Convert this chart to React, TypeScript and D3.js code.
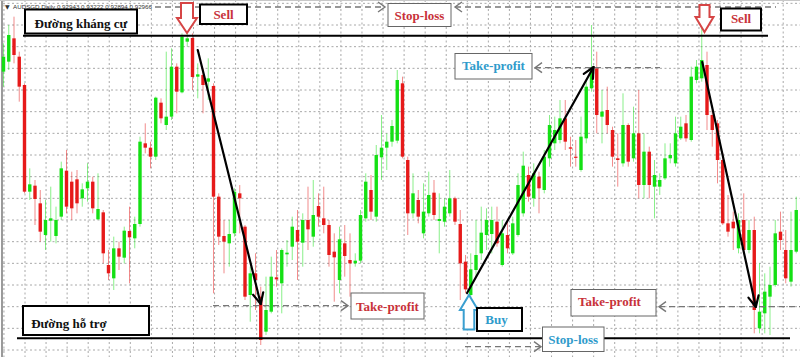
import React from "react";
import * as d3 from "d3";

const W = 800;
const H = 357;

// Candles (index -4 .. 147), values in price points
const firstIndex = -4;
const opens = [835,865,935,880,795,475,493,440,345,388,342,400,538,505,512,455,485,505,392,413,255,215,305,277,357,335,378,620,607,580,742,675,700,850,773,925,936,820,825,805,792,460,342,320,350,470,370,165,230,160,55,115,218,200,287,310,360,322,390,340,432,395,375,295,210,320,270,260,268,395,480,400,578,607,625,628,800,570,410,450,350,410,472,387,385,410,455,378,265,165,240,290,345,348,385,255,345,290,345,410,525,455,520,480,575,620,630,695,608,580,540,635,785,845,700,720,660,575,560,675,575,650,495,595,490,490,515,575,560,635,680,630,810,815,855,705,680,570,380,385,305,390,300,360,65,110,160,195,355,300,205,295];
const highs = [920,975,1000,895,800,545,510,480,450,490,430,565,600,535,540,500,560,520,530,420,300,340,325,370,430,400,640,680,625,760,755,895,905,860,950,981,950,860,845,875,800,470,390,390,485,495,375,250,290,190,220,280,300,305,330,400,420,410,490,510,470,490,390,350,370,375,350,290,420,530,525,615,705,650,690,840,820,580,530,480,500,535,510,470,455,540,460,420,285,290,390,430,425,430,430,390,390,400,530,595,550,560,535,600,705,700,750,750,640,630,700,810,975,895,780,790,670,650,770,680,730,780,650,610,570,530,620,620,700,700,705,850,870,975,895,720,690,590,465,415,410,470,390,400,260,230,250,390,415,360,415,460];
const lows = [790,840,860,745,470,450,375,325,300,325,320,390,410,390,410,430,445,410,390,260,210,180,240,260,200,305,370,590,545,570,680,660,690,710,770,910,780,755,710,750,170,315,230,250,340,350,150,85,120,15,45,110,190,110,250,270,210,250,300,310,370,350,250,145,170,220,160,250,260,385,390,385,510,540,610,620,575,345,395,380,335,400,390,290,370,400,375,150,170,160,220,270,300,290,310,250,290,285,340,400,445,430,410,470,550,600,620,600,550,550,535,620,775,650,620,650,550,490,550,550,565,455,455,455,395,465,510,560,550,630,625,625,800,805,660,610,500,375,340,300,290,290,290,50,50,50,45,190,300,200,190,290];
const closes = [880,945,885,790,475,497,453,355,390,395,390,545,430,425,440,482,505,425,423,290,230,305,280,358,338,378,625,607,580,757,695,700,850,775,940,935,819,827,795,815,460,340,325,348,475,455,160,230,210,30,120,220,212,300,292,370,325,390,362,405,400,375,285,278,332,282,260,268,405,505,415,585,607,625,672,810,580,410,470,400,415,465,405,393,430,455,385,260,182,242,285,352,390,390,320,350,305,380,495,553,460,530,485,580,675,660,695,625,604,577,640,790,845,705,715,675,580,570,675,565,650,495,595,495,525,510,575,585,650,670,635,820,850,870,705,660,570,380,355,365,390,300,360,120,115,175,195,350,330,215,300,420];

// Key levels (price points)
const resistanceLevel = 943;
const supportLevel = 35;
const sellStopLevel = 1029;
const buyTargetLevel = 847;
const leftTargetLevel = 133;
const rightTargetLevel = 130;
const buyStopLevel = 10;

// Trend moves: [fromIndex, fromValue, toIndex, toValue]
const moves = [
  [33, 900, 45, 138],
  [84.3, 171, 108.4, 849],
  [129.1, 864, 139.3, 129],
];

const titleText = "AUDSGD,Daily  0.92943 0.93222 0.92894 0.92966";

const RED_TXT = "#c8323a";
const BLUE_TXT = "#2f9bcb";
const GREEN = "#14e014";
const RED = "#e61a1a";

const labels = [
  { text: "Đường kháng cự", x: 25, y: 9.5, w: 112, h: 24, color: "#111", border: "#000", bw: 2, dy: 2 },
  { text: "Sell", x: 200, y: 4.5, w: 47, h: 19.5, color: RED_TXT, border: "#000", bw: 2, dy: 0 },
  { text: "Stop-loss", x: 388, y: 3.5, w: 63, h: 23, color: RED_TXT, border: "#666", bw: 1, dy: 0 },
  { text: "Take-profit", x: 455, y: 53.5, w: 77, h: 25.5, color: BLUE_TXT, border: "#666", bw: 1, dy: -1 },
  { text: "Sell", x: 721, y: 8.5, w: 40, h: 22, color: RED_TXT, border: "#000", bw: 2, dy: -1 },
  { text: "Take-profit", x: 351, y: 293, w: 73, h: 26, color: RED_TXT, border: "#666", bw: 1, dy: 0 },
  { text: "Đường hỗ trợ", x: 23, y: 306, w: 126, h: 29, color: "#111", border: "#000", bw: 2, dy: 3, tx: -17 },
  { text: "Buy", x: 477, y: 308, w: 45, h: 23, color: BLUE_TXT, border: "#000", bw: 2, dy: 0, tx: -3 },
  { text: "Take-profit", x: 571, y: 289.5, w: 85, h: 26.5, color: RED_TXT, border: "#666", bw: 1, dy: -1, tx: -4 },
  { text: "Stop-loss", x: 542.5, y: 327, w: 61.5, h: 24.5, color: BLUE_TXT, border: "#666", bw: 1, dy: 0 },
];

function blockArrow(cx: number, top: number, headY: number, tip: number, shaftHalf: number, headHalf: number) {
  return `M${cx - shaftHalf},${top} L${cx + shaftHalf},${top} L${cx + shaftHalf},${headY} L${cx + headHalf},${headY} L${cx},${tip} L${cx - headHalf},${headY} L${cx - shaftHalf},${headY} Z`;
}

function chevron(x: number, y: number, dir: number) {
  return `M${x - dir * 7},${y - 5} L${x},${y} L${x - dir * 7},${y + 5}`;
}

export default function App() {
  const xScale = d3.scaleLinear().domain([0, 147]).range([24.5, 796.25]);
  const yScale = d3.scaleLinear().domain([0, 990]).range([350, 20]);
  const gridX = d3.scaleLinear().domain([0, 36]).range([25, 783.2]);
  const vGrid = d3.range(-1, 37).map((k) => gridX(k));
  const hGrid = d3.range(0, 1041, 65).map((v) => yScale(v));

  const candles = opens.map((o, i) => ({
    idx: firstIndex + i,
    o,
    h: highs[i],
    l: lows[i],
    c: closes[i],
  }));

  const bodyW = 3.4;

  return (
    <svg
      width={W}
      height={H}
      style={{ position: "fixed", left: 0, top: 0, background: "#fff" }}
      fontFamily="'Liberation Serif', 'Times New Roman', serif"
    >
      <rect x={0} y={0} width={W} height={H} fill="#fff" />
      {/* grid */}
      <g stroke="#a8a8a8" strokeWidth={1} strokeDasharray="2,2.5">
        {vGrid.map((x, i) => (
          <line key={"v" + i} x1={x} x2={x} y1={0} y2={H} />
        ))}
        {hGrid.map((y, i) => (
          <line key={"h" + i} x1={3} x2={W} y1={y} y2={y} />
        ))}
      </g>
      {/* window border */}
      <line x1={2} x2={2} y1={0} y2={H} stroke="#9a9a9a" strokeWidth={2} />
      <line x1={0} x2={W} y1={0.5} y2={0.5} stroke="#c8c8c8" strokeWidth={1} />

      {/* candles */}
      <g>
        {candles.map((d) => {
          const x = xScale(d.idx);
          const up = d.c >= d.o;
          const col = up ? GREEN : RED;
          const y1 = yScale(Math.max(d.o, d.c));
          const y2 = yScale(Math.min(d.o, d.c));
          return (
            <g key={d.idx}>
              <line x1={x} x2={x} y1={yScale(d.h)} y2={yScale(d.l)} stroke={col} strokeOpacity={0.5} strokeWidth={1} />
              <rect x={x - bodyW / 2} y={y1} width={bodyW} height={Math.max(1.2, y2 - y1)} fill={col} />
            </g>
          );
        })}
      </g>

      {/* title */}
      <text x={5} y={9} fontSize={6} fill="#333" fontFamily="'DejaVu Sans', sans-serif">▼</text>
      <text x={13} y={8.5} fontSize={6.2} fill="#333" fontFamily="'Liberation Sans', Arial, sans-serif" textLength={139} lengthAdjust="spacingAndGlyphs">
        {titleText}
      </text>

      {/* level lines */}
      <line x1={23} x2={768} y1={yScale(resistanceLevel)} y2={yScale(resistanceLevel)} stroke="#000" strokeWidth={2} />
      <line x1={17} x2={790} y1={yScale(supportLevel)} y2={yScale(supportLevel)} stroke="#000" strokeWidth={2} />

      {/* dashed target/stop lines */}
      <g stroke="#777" strokeWidth={1.4} fill="none">
        <line x1={155} x2={385} y1={yScale(sellStopLevel)} y2={yScale(sellStopLevel)} strokeDasharray="6,4" />
        <path d={chevron(385, yScale(sellStopLevel), 1)} />
        <line x1={455} x2={776} y1={yScale(sellStopLevel)} y2={yScale(sellStopLevel)} strokeDasharray="6,4" />
        <path d={chevron(455, yScale(sellStopLevel), -1)} />

        <line x1={535} x2={660} y1={yScale(buyTargetLevel)} y2={yScale(buyTargetLevel)} strokeDasharray="6,4" />
        <path d={chevron(535, yScale(buyTargetLevel), -1)} />

        <line x1={213} x2={348} y1={yScale(leftTargetLevel)} y2={yScale(leftTargetLevel)} strokeDasharray="6,4" />
        <path d={chevron(348, yScale(leftTargetLevel), 1)} />

        <line x1={659} x2={800} y1={yScale(rightTargetLevel)} y2={yScale(rightTargetLevel)} strokeDasharray="6,4" />
        <path d={chevron(659, yScale(rightTargetLevel), -1)} />

        <line x1={465} x2={541} y1={yScale(buyStopLevel)} y2={yScale(buyStopLevel)} strokeDasharray="6,4" />
        <path d={chevron(541, yScale(buyStopLevel), 1)} />
      </g>

      {/* trend arrows */}
      <g stroke="#000" strokeWidth={2.2} fill="none" strokeLinecap="round" strokeLinejoin="round">
        {moves.map((m, i) => {
          const x1 = xScale(m[0]);
          const y1 = yScale(m[1]);
          const x2 = xScale(m[2]);
          const y2 = yScale(m[3]);
          const ang = Math.atan2(y2 - y1, x2 - x1);
          const L = 12;
          const a1 = ang + Math.PI - 0.45;
          const a2 = ang + Math.PI + 0.45;
          return (
            <g key={i}>
              <line x1={x1} y1={y1} x2={x2} y2={y2} />
              <path d={`M${x2 + L * Math.cos(a1)},${y2 + L * Math.sin(a1)} L${x2},${y2} L${x2 + L * Math.cos(a2)},${y2 + L * Math.sin(a2)}`} />
            </g>
          );
        })}
      </g>

      {/* block arrows */}
      <path d={blockArrow(187, 3, 18, 33, 6, 10)} fill="#fff" stroke="#d64545" strokeWidth={2} strokeLinejoin="miter" />
      <path d={blockArrow(704.5, 5, 17, 32, 5, 9)} fill="#fff" stroke="#d64545" strokeWidth={2} strokeLinejoin="miter" />
      <path d={blockArrow(469, 329.5, 310, 295, 5.3, 9)} fill="#fff" stroke="#3a9fd0" strokeWidth={2} strokeLinejoin="miter" />

      {/* label boxes */}
      {labels.map((b, i) => (
        <g key={i}>
          <rect x={b.x} y={b.y} width={b.w} height={b.h} fill="#fff" stroke={b.border} strokeWidth={b.bw} />
          <text
            x={b.x + b.w / 2 + (b.tx || 0)}
            y={b.y + b.h / 2 + (b.dy || 0)}
            textAnchor="middle"
            dominantBaseline="central"
            fontSize={13}
            fontWeight="bold"
            fill={b.color}
          >
            {b.text}
          </text>
        </g>
      ))}
    </svg>
  );
}
